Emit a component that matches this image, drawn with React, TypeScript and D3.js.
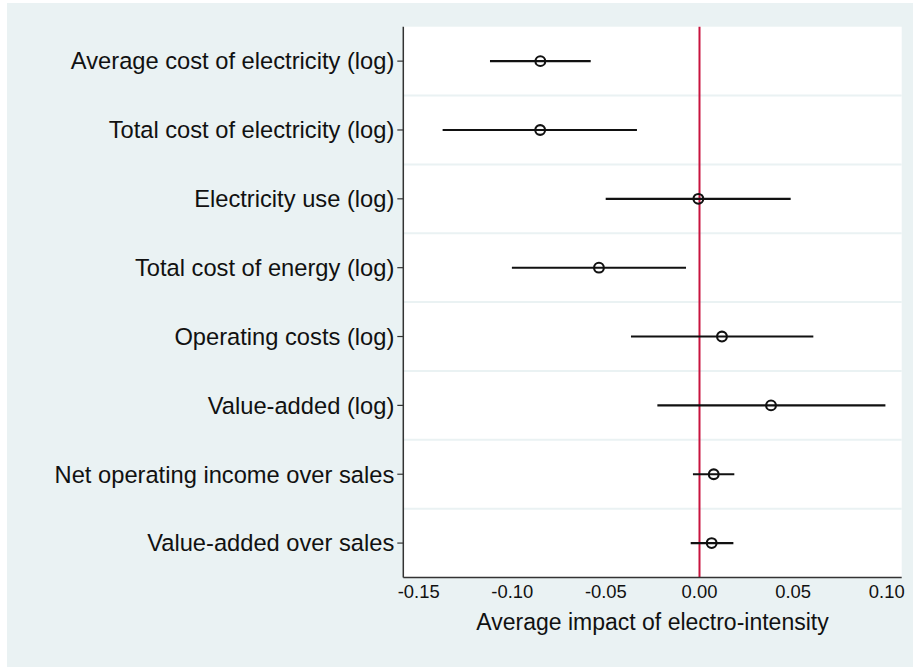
import React from "react";
import * as d3 from "d3";

const categories = [
  "Average cost of electricity (log)",
  "Total cost of electricity (log)",
  "Electricity use (log)",
  "Total cost of energy (log)",
  "Operating costs (log)",
  "Value-added (log)",
  "Net operating income over sales",
  "Value-added over sales",
];
const estimates = [-0.085, -0.0851, -0.0006, -0.0537, 0.012, 0.0382, 0.0076, 0.0065];
const ciLow = [-0.1119, -0.1372, -0.0501, -0.1002, -0.0366, -0.0225, -0.0035, -0.0047];
const ciHigh = [-0.0581, -0.0334, 0.0487, -0.0072, 0.0608, 0.0993, 0.0186, 0.0181];
const xTicks = [-0.15, -0.1, -0.05, 0, 0.05, 0.1];
const xTitle = "Average impact of electro-intensity";

const W = 913;
const H = 667;
const left = 403.3;
const right = 901.7;
const top = 26.7;
const bottom = 577.5;
const bg = "#eaf2f3";
const font = "'Liberation Sans', Arial, sans-serif";

export default function App() {
  const x = d3.scaleLinear().domain([-0.1582, 0.108]).range([left, right]);
  const y = d3.scaleBand<string>().domain(categories).range([top, bottom]).padding(0);
  const bw = y.bandwidth();
  const rows = categories.map((c, i) => ({ c, est: estimates[i], lo: ciLow[i], hi: ciHigh[i] }));
  return (
    <svg width={W} height={H} style={{ position: "absolute", left: 0, top: 0 }}>
      <rect x={7} y={3} width={W - 7} height={H - 3} fill={bg} />
      <rect x={left} y={top} width={right - left} height={bottom - top} fill="#ffffff" />
      {categories.slice(1).map((c) => (
        <line key={"g" + c} x1={left} x2={right} y1={y(c)!} y2={y(c)!} stroke={bg} strokeWidth={2} />
      ))}
      <line x1={x(0)} x2={x(0)} y1={top} y2={bottom} stroke="#c8143f" strokeWidth={2} />
      {rows.map((r) => {
        const cy = y(r.c)! + bw / 2;
        return (
          <g key={r.c}>
            <line x1={x(r.lo)} x2={x(r.hi)} y1={cy} y2={cy} stroke="#111" strokeWidth={2.1} />
            <circle cx={x(r.est)} cy={cy} r={4.9} fill="none" stroke="#111" strokeWidth={2.1} />
          </g>
        );
      })}
      <line x1={left} x2={left} y1={top} y2={bottom} stroke="#333" strokeWidth={1.5} />
      <line x1={left} x2={right} y1={bottom} y2={bottom} stroke="#333" strokeWidth={1.5} />
      {categories.map((c) => {
        const cy = y(c)! + bw / 2;
        return (
          <g key={"l" + c}>
            <line x1={left - 6} x2={left} y1={cy} y2={cy} stroke="#333" strokeWidth={1.2} />
            <text x={left - 9} y={cy} dy="0.35em" textAnchor="end" fontFamily={font} fontSize={23.7} fill="#111">
              {c}
            </text>
          </g>
        );
      })}
      {xTicks.map((t) => (
        <text key={t} x={x(t)} y={bottom + 20} textAnchor="middle" fontFamily={font} fontSize={18.4} fill="#111">
          {d3.format(".2f")(t).replace("−", "-")}
        </text>
      ))}
      <text x={(left + right) / 2} y={bottom + 52} textAnchor="middle" fontFamily={font} fontSize={23} fill="#111">
        {xTitle}
      </text>
    </svg>
  );
}
